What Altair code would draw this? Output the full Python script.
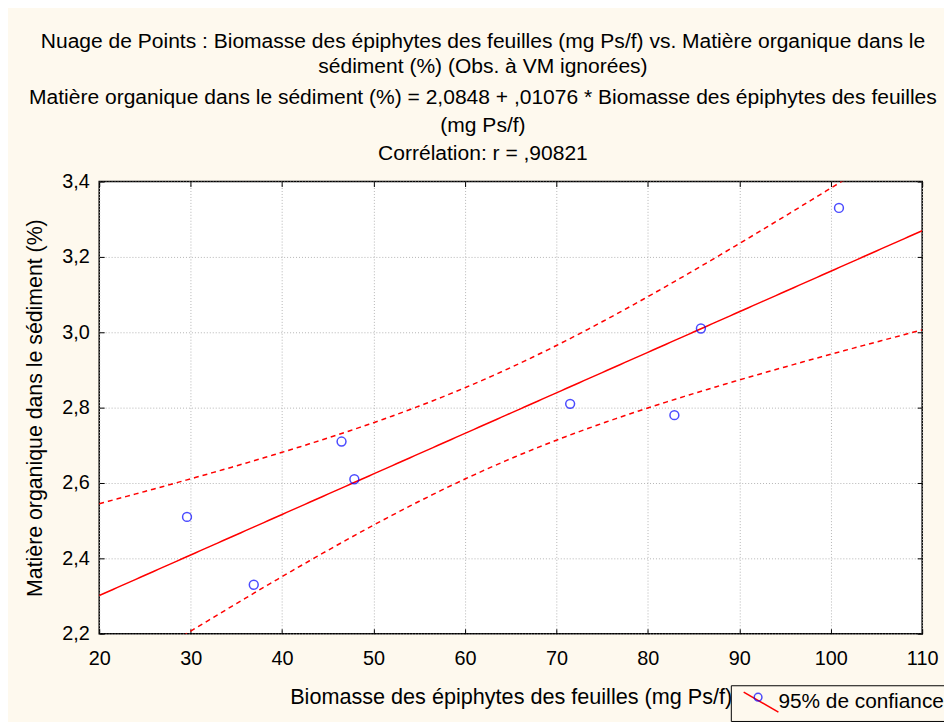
import altair as alt
import numpy as np
import pandas as pd

# ---- data ----
biomasse = [29.6, 36.9, 46.5, 47.9, 71.5, 82.9, 85.8, 100.9]
matiere = [2.51, 2.33, 2.71, 2.61, 2.81, 2.78, 3.01, 3.33]
x_ticks = [20, 30, 40, 50, 60, 70, 80, 90, 100, 110]
y_ticks = [2.2, 2.4, 2.6, 2.8, 3.0, 3.2, 3.4]
x_domain = [20, 110]
y_domain = [2.2, 3.4]
title_lines = [
    "Nuage de Points : Biomasse des épiphytes des feuilles (mg Ps/f) vs. Matière organique dans le",
    "sédiment (%) (Obs. à VM ignorées)",
]
subtitle_lines = [
    "Matière organique dans le sédiment (%) = 2,0848 + ,01076 * Biomasse des épiphytes des feuilles",
    "(mg Ps/f)",
    "Corrélation: r = ,90821",
]
x_title = "Biomasse des épiphytes des feuilles (mg Ps/f)"
y_title = "Matière organique dans le sédiment (%)"
legend_label = "95% de confiance"

BG = "#FEF9EE"
FONT = "Liberation Sans"

# ---- least-squares fit and 95% confidence band from the points ----
xa = np.array(biomasse)
ya = np.array(matiere)
n = len(xa)
slope, intercept = np.polyfit(xa, ya, 1)
resid = ya - (intercept + slope * xa)
s = np.sqrt((resid ** 2).sum() / (n - 2))
sxx = ((xa - xa.mean()) ** 2).sum()
t975 = 2.4469  # Student t quantile, df = 6
xg = np.linspace(x_domain[0], x_domain[1], 181)
fit = intercept + slope * xg
half = t975 * s * np.sqrt(1.0 / n + (xg - xa.mean()) ** 2 / sxx)

pts_df = pd.DataFrame({"x": biomasse, "y": matiere, "p": "pts"})
fit_df = pd.DataFrame({"x": xg, "y": fit, "lab": legend_label})
ci_df = pd.concat([
    pd.DataFrame({"x": xg, "y": fit + half, "b": "sup", "lab": legend_label}),
    pd.DataFrame({"x": xg, "y": fit - half, "b": "inf", "lab": legend_label}),
])

xscale = alt.Scale(domain=x_domain, nice=False, zero=False)
yscale = alt.Scale(domain=y_domain, nice=False, zero=False)

line_legend = alt.Legend(
    title=None, orient="none", legendX=637, legendY=508,
    symbolType="M-0.4,-1L3.1,1", symbolSize=400, symbolStrokeWidth=1.5,
    symbolStrokeColor="#ff0000", symbolDash=[100, 0],
    labelFontSize=21, labelOffset=20, labelColor="black", labelFont=FONT, labelLimit=0,
    padding=6, strokeColor="black", fillColor=BG, cornerRadius=0,
)
pt_legend = alt.Legend(
    title=None, orient="none", legendX=659.5, legendY=515,
    symbolType="circle", symbolSize=60, symbolStrokeWidth=1.5,
    symbolFillColor="transparent", symbolStrokeColor="#0000ff",
    labelExpr="''", labelFontSize=8, labelOffset=0, padding=0,
)
color_enc = alt.Color(
    "lab:N", scale=alt.Scale(domain=[legend_label], range=["#ff0000"]), legend=line_legend
)

main_x_axis = alt.Axis(
    orient="bottom", values=x_ticks, offset=-5, tickSize=5, tickColor="black", tickWidth=1,
    domain=False, grid=True, gridColor="#b4b4b4", gridDash=[1, 2], gridWidth=1,
    labelFontSize=20, labelPadding=15, labelColor="black", labelFont=FONT, labelFlush=False,
    title=x_title, titleFontSize=21.8, titleFontWeight="normal", titleFont=FONT,
    titleColor="black", titlePadding=18,
)
main_y_axis = alt.Axis(
    orient="left", values=y_ticks, offset=-5, tickSize=5, tickColor="black", tickWidth=1,
    domain=False, grid=True, gridColor="#b4b4b4", gridDash=[1, 2], gridWidth=1,
    labelFontSize=20, labelPadding=10, labelColor="black", labelFont=FONT, labelFlush=False,
    labelExpr="replace(format(datum.value, '.1f'), '.', ',')",
    title=y_title, titleFontSize=21.5, titleFontWeight="normal", titleFont=FONT,
    titleColor="black", titlePadding=15,
)
top_x_axis = alt.Axis(
    orient="top", values=x_ticks, offset=-5, tickSize=5, tickColor="black", tickWidth=1,
    domain=False, grid=False, labels=False, title=None,
)
right_y_axis = alt.Axis(
    orient="right", values=y_ticks, offset=-5, tickSize=5, tickColor="black", tickWidth=1,
    domain=False, grid=False, labels=False, title=None,
)

ci_layer = alt.Chart(ci_df).mark_line(strokeWidth=1.5, strokeDash=[5, 4], clip=True).encode(
    x=alt.X("x:Q", scale=xscale, axis=main_x_axis),
    y=alt.Y("y:Q", scale=yscale, axis=main_y_axis),
    detail="b:N",
    color=color_enc,
)
fit_layer = alt.Chart(fit_df).mark_line(strokeWidth=1.5, clip=True).encode(
    x=alt.X("x:Q", scale=xscale, axis=top_x_axis),
    y=alt.Y("y:Q", scale=yscale, axis=right_y_axis),
    color=color_enc,
)
pt_layer = alt.Chart(pts_df).mark_point(shape="circle", filled=False, size=80, strokeWidth=1.5).encode(
    x=alt.X("x:Q", scale=xscale, axis=None),
    y=alt.Y("y:Q", scale=yscale, axis=None),
    stroke=alt.Stroke("p:N", scale=alt.Scale(domain=["pts"], range=["#0000ff"]), legend=pt_legend),
)

chart = alt.layer(ci_layer, fit_layer, pt_layer).resolve_axis(
    x="independent", y="independent"
).properties(
    width=830, height=456,
    autosize=alt.AutoSizeParams(type="none"),
    padding={"left": 92, "top": 172, "right": 22, "bottom": 86},
    background=BG,
    title=alt.TitleParams(
        text=title_lines, subtitle=subtitle_lines, anchor="middle", frame="group", dx=-28,
        fontSize=21.2, fontWeight="normal", font=FONT, color="black", lineHeight=25,
        subtitleFontSize=21.2, subtitleFont=FONT, subtitleColor="black", subtitleLineHeight=28,
        subtitlePadding=10, offset=8,
    ),
).configure_view(stroke="black", strokeWidth=1.5, fill="white")

chart.save("out.html", embed_options={"renderer": "svg", "actions": False})
